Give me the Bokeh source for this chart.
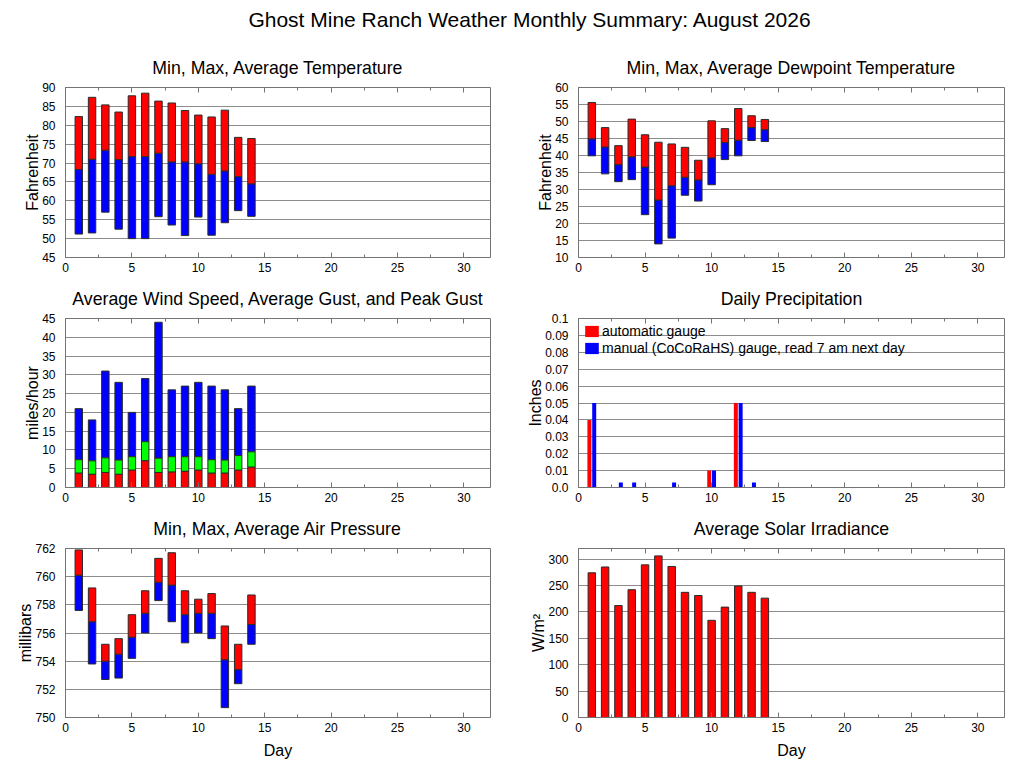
from bokeh.plotting import figure
from bokeh.layouts import column, row
from bokeh.models import (Range1d, LinearAxis, SingleIntervalTicker, Div,
                          CustomJSTickFormatter, CustomLabelingPolicy,
                          Legend, LegendItem)
from bokeh.transform import dodge
from bokeh.embed import file_html
from bokeh.resources import INLINE

FONT = "Liberation Sans"
RED, GREEN, BLUE = "#ff0000", "#00ff00", "#0000ff"
EDGE = "#2b2b2b"
FRAME = "#747474"
GRID = "#8c8c8c"
BAR_W = 0.56

days = list(range(1, 15))

temp_min = [51.2, 51.5, 57.0, 52.5, 50.0, 50.0, 55.8, 53.6, 50.8, 55.7, 50.9, 54.2, 57.4, 55.9]
temp_avg = [68.3, 71.0, 73.4, 70.9, 71.7, 71.7, 72.6, 70.3, 70.3, 69.8, 67.0, 67.9, 66.4, 64.5]
temp_max = [82.3, 87.4, 85.4, 83.5, 87.8, 88.5, 86.4, 85.9, 83.9, 82.7, 82.2, 84.0, 76.8, 76.5]

dew_min = [39.9, 34.6, 32.3, 32.9, 22.6, 14.0, 15.7, 28.3, 26.6, 31.4, 38.8, 39.9, 44.4, 44.1]
dew_avg = [44.9, 42.5, 37.3, 39.6, 36.6, 26.9, 31.1, 33.6, 32.8, 39.3, 43.8, 44.5, 48.2, 47.6]
dew_max = [55.6, 48.2, 42.9, 50.7, 46.1, 43.9, 43.4, 42.4, 38.6, 50.2, 47.9, 53.8, 51.7, 50.6]

wind_avg = [3.8, 3.5, 4.0, 3.5, 4.6, 7.1, 4.0, 4.1, 4.3, 4.6, 3.8, 3.8, 4.6, 5.4]
gust_avg = [7.4, 7.1, 7.9, 7.3, 8.2, 12.2, 7.8, 8.2, 8.2, 8.2, 7.4, 7.3, 8.5, 9.5]
gust_peak = [21, 18, 31, 28, 20, 29, 44, 26, 27, 28, 27, 26, 21, 27]

precip_auto = [0.04, 0, 0, 0, 0, 0, 0, 0, 0, 0.01, 0, 0.05, 0, 0]
precip_manual = [0.05, 0, 0.003, 0.003, 0, 0, 0.003, 0, 0, 0.01, 0, 0.05, 0.003, 0]

pres_min = [757.6, 753.8, 752.7, 752.8, 754.2, 756.0, 758.3, 756.8, 755.3, 756.0, 755.6, 750.7, 752.4, 755.2]
pres_avg = [760.1, 756.8, 754.0, 754.5, 755.7, 757.4, 759.6, 759.4, 757.3, 757.4, 757.4, 754.1, 753.4, 756.6]
pres_max = [761.9, 759.2, 755.2, 755.6, 757.3, 759.0, 761.3, 761.7, 759.0, 758.4, 758.8, 756.5, 755.2, 758.7]

solar = [274, 285, 212, 242, 289, 306, 286, 237, 231, 184, 209, 249, 237, 226]


def panel(title, ylabel, yr, ystep, width, height, borders, xlabel=None):
    left, right, top, bottom = borders
    p = figure(width=width, height=height, title=title,
               x_range=Range1d(0, 32), y_range=Range1d(*yr),
               toolbar_location=None, output_backend="svg",
               min_border_left=left, min_border_right=right,
               min_border_top=top, min_border_bottom=bottom)
    p.title.align = "center"
    p.title.text_font = FONT
    p.title.text_font_size = "17.7px"
    p.title.text_font_style = "normal"
    p.title.text_color = "black"
    p.title.standoff = 20
    p.outline_line_color = FRAME

    p.xaxis.ticker = SingleIntervalTicker(interval=5, num_minor_ticks=2)
    p.yaxis.ticker = SingleIntervalTicker(interval=ystep, num_minor_ticks=0)
    p.axis.axis_line_color = FRAME
    p.axis.major_label_text_font = FONT
    p.axis.major_label_text_font_size = "12px"
    p.axis.major_label_text_color = "black"
    p.axis.axis_label_text_font = FONT
    p.axis.axis_label_text_font_size = "16px"
    p.axis.axis_label_text_font_style = "normal"
    p.axis.axis_label_text_color = "black"
    p.xaxis.major_tick_in = 5
    p.xaxis.major_tick_out = 0
    p.xaxis.minor_tick_in = 3
    p.xaxis.minor_tick_out = 0
    p.xaxis.major_tick_line_color = FRAME
    p.xaxis.minor_tick_line_color = FRAME
    p.xaxis.major_label_standoff = 5
    p.yaxis.major_tick_line_color = None
    p.yaxis.minor_tick_line_color = None
    p.yaxis.major_label_standoff = 4
    p.yaxis.axis_label = ylabel
    p.yaxis.axis_label_standoff = -2
    if xlabel:
        p.xaxis.axis_label = xlabel
        p.xaxis.axis_label_standoff = 7

    # tick marks along the top edge, no labels
    top_ax = LinearAxis(ticker=SingleIntervalTicker(interval=5, num_minor_ticks=2),
                        major_label_policy=CustomLabelingPolicy(code="return new Set()"),
                        major_label_text_font_size="0px", major_label_standoff=0,
                        major_tick_in=5, major_tick_out=0,
                        minor_tick_in=3, minor_tick_out=0,
                        axis_line_color=None,
                        major_tick_line_color=FRAME, minor_tick_line_color=FRAME)
    p.add_layout(top_ax, "above")

    p.xgrid.visible = False
    p.ygrid.grid_line_color = GRID
    return p


LEFT = (65, 26)
RIGHT = (62, 15)

# row 1
p1 = panel("Min, Max, Average Temperature", "Fahrenheit", (45, 90), 5, 516, 236, LEFT + (47, 19))
p1.vbar(x=days, bottom=temp_min, top=temp_avg, width=BAR_W, fill_color=BLUE, line_color=EDGE)
p1.vbar(x=days, bottom=temp_avg, top=temp_max, width=BAR_W, fill_color=RED, line_color=EDGE)

p2 = panel("Min, Max, Average Dewpoint Temperature", "Fahrenheit", (10, 60), 5, 503, 236, RIGHT + (47, 19))
p2.vbar(x=days, bottom=dew_min, top=dew_avg, width=BAR_W, fill_color=BLUE, line_color=EDGE)
p2.vbar(x=days, bottom=dew_avg, top=dew_max, width=BAR_W, fill_color=RED, line_color=EDGE)

# row 2
p3 = panel("Average Wind Speed, Average Gust, and Peak Gust", "miles/hour", (0, 45), 5, 516, 230, LEFT + (42, 19))
p3.vbar(x=days, bottom=gust_avg, top=gust_peak, width=BAR_W, fill_color=BLUE, line_color=EDGE)
p3.vbar(x=days, bottom=wind_avg, top=gust_avg, width=BAR_W, fill_color=GREEN, line_color=EDGE)
p3.vbar(x=days, bottom=0, top=wind_avg, width=BAR_W, fill_color=RED, line_color=EDGE)

p4 = panel("Daily Precipitation", "Inches", (0, 0.1), 0.01, 503, 230, RIGHT + (42, 19))
p4.yaxis.formatter = CustomJSTickFormatter(
    code="return tick < 1e-9 ? '0.0' : String(Math.round(tick * 100) / 100);")
src = dict(day=days, auto=precip_auto, manual=precip_manual)
r_auto = p4.vbar(x=dodge("day", -0.18), top="auto", width=0.3, source=src,
                 fill_color=RED, line_color=None)
r_man = p4.vbar(x=dodge("day", 0.18), top="manual", width=0.3, source=src,
                fill_color=BLUE, line_color=None)
legend = Legend(items=[LegendItem(label="automatic gauge", renderers=[r_auto]),
                       LegendItem(label="manual (CoCoRaHS) gauge, read 7 am next day", renderers=[r_man])],
                location="top_left", border_line_color=None, background_fill_alpha=0,
                label_text_font=FONT, label_text_font_size="14px", label_text_color="black",
                glyph_width=17, glyph_height=14, label_height=14, spacing=1,
                padding=9, margin=5, label_standoff=2)
p4.add_layout(legend)

# row 3
p5 = panel("Min, Max, Average Air Pressure", "millibars", (750, 762), 2, 516, 258, LEFT + (42, 47), xlabel="Day")
p5.vbar(x=days, bottom=pres_min, top=pres_avg, width=BAR_W, fill_color=BLUE, line_color=EDGE)
p5.vbar(x=days, bottom=pres_avg, top=pres_max, width=BAR_W, fill_color=RED, line_color=EDGE)

p6 = panel("Average Solar Irradiance", "W/m²", (0, 320), 50, 503, 258, RIGHT + (42, 47), xlabel="Day")
p6.vbar(x=days, bottom=0, top=solar, width=BAR_W, fill_color=RED, line_color=EDGE)

header = Div(text=('<div style="width:1019px;text-align:center;position:relative;left:20px;'
                   'padding-top:8px;font-family:\'Liberation Sans\';font-size:21px;'
                   'line-height:24px;color:#000;">'
                   'Ghost Mine Ranch Weather Monthly Summary: August 2026</div>'),
             width=1019, height=40, margin=0)

p = column(header, row(p1, p2), row(p3, p4), row(p5, p6))

open("out.html", "w").write(file_html(p, INLINE))
